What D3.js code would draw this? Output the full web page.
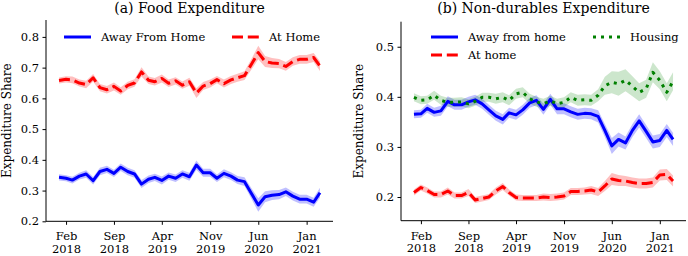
<!DOCTYPE html>
<html>
<head>
<meta charset="utf-8">
<script src="https://cdn.jsdelivr.net/npm/d3@7"></script>
<style>
  body { margin: 0; background: #fff; }
  svg { display: block; }
  text { font-family: "DejaVu Serif", serif; fill: #000; }
</style>
</head>
<body>
<div id="chart"></div>
<script>
// monthly observations, Jan 2018 .. Mar 2021
const months = d3.timeMonth.range(new Date(2018, 0, 1), new Date(2021, 3, 1));
const tickDates = [new Date(2018, 1, 1), new Date(2018, 8, 1), new Date(2019, 3, 1),
                   new Date(2019, 10, 1), new Date(2020, 5, 1), new Date(2021, 0, 1)];

// (a) food expenditure shares
const foodAway = [0.343,0.340,0.334,0.347,0.354,0.332,0.362,0.369,0.356,0.376,0.362,0.354,0.321,0.337,0.343,0.333,0.347,0.340,0.354,0.345,0.383,0.358,0.358,0.340,0.356,0.347,0.334,0.329,0.291,0.253,0.280,0.285,0.287,0.296,0.282,0.272,0.272,0.262,0.293];
const foodAwayCi = [0.010,0.010,0.011,0.011,0.012,0.012,0.012,0.012,0.012,0.012,0.012,0.012,0.013,0.012,0.012,0.013,0.012,0.012,0.012,0.013,0.015,0.013,0.013,0.012,0.013,0.013,0.013,0.014,0.017,0.022,0.018,0.016,0.015,0.014,0.014,0.014,0.014,0.015,0.016];
const foodHome = [0.658,0.662,0.660,0.650,0.645,0.667,0.635,0.628,0.639,0.624,0.642,0.650,0.686,0.659,0.654,0.665,0.649,0.657,0.643,0.654,0.617,0.640,0.648,0.661,0.648,0.660,0.667,0.674,0.710,0.749,0.720,0.715,0.713,0.704,0.720,0.727,0.727,0.733,0.705];
const foodHomeCi = [0.010,0.010,0.011,0.011,0.012,0.012,0.012,0.012,0.013,0.012,0.012,0.012,0.015,0.012,0.012,0.013,0.012,0.012,0.012,0.013,0.016,0.013,0.013,0.012,0.013,0.013,0.013,0.014,0.017,0.022,0.018,0.016,0.015,0.014,0.014,0.014,0.014,0.015,0.016];

// (b) non-durables expenditure shares
const ndAway = [0.365,0.366,0.377,0.369,0.372,0.391,0.384,0.384,0.390,0.394,0.386,0.374,0.362,0.355,0.368,0.364,0.374,0.388,0.393,0.375,0.395,0.376,0.376,0.370,0.365,0.367,0.366,0.361,0.333,0.302,0.315,0.308,0.333,0.352,0.331,0.310,0.313,0.333,0.315];
const ndAwayCi = [0.008,0.008,0.009,0.009,0.010,0.010,0.010,0.010,0.010,0.010,0.010,0.010,0.010,0.010,0.010,0.010,0.010,0.010,0.010,0.011,0.011,0.011,0.011,0.011,0.011,0.011,0.011,0.012,0.013,0.016,0.014,0.013,0.013,0.013,0.013,0.013,0.013,0.013,0.013];
const ndHome = [0.209,0.219,0.213,0.205,0.205,0.212,0.203,0.203,0.209,0.194,0.197,0.200,0.212,0.221,0.209,0.199,0.198,0.198,0.198,0.200,0.199,0.200,0.202,0.211,0.211,0.212,0.214,0.210,0.222,0.236,0.233,0.232,0.229,0.227,0.227,0.229,0.244,0.245,0.232];
const ndHomeCi = [0.006,0.006,0.006,0.006,0.006,0.007,0.006,0.006,0.007,0.006,0.006,0.006,0.007,0.007,0.006,0.006,0.006,0.006,0.006,0.007,0.007,0.007,0.007,0.007,0.007,0.007,0.008,0.008,0.010,0.012,0.011,0.010,0.010,0.010,0.010,0.010,0.011,0.011,0.011];
const ndHousing = [0.399,0.393,0.394,0.403,0.393,0.389,0.389,0.390,0.386,0.391,0.399,0.399,0.396,0.399,0.393,0.406,0.409,0.396,0.390,0.386,0.392,0.386,0.389,0.399,0.393,0.394,0.393,0.403,0.422,0.429,0.426,0.433,0.421,0.409,0.416,0.449,0.433,0.409,0.431];
const ndHousingCi = [0.008,0.008,0.008,0.009,0.009,0.009,0.009,0.009,0.009,0.009,0.009,0.009,0.010,0.010,0.010,0.010,0.010,0.010,0.010,0.010,0.010,0.010,0.010,0.010,0.011,0.011,0.011,0.012,0.018,0.022,0.024,0.022,0.020,0.018,0.018,0.020,0.018,0.018,0.018];

const styles = {
    away:    {color: "#0000ff", band: "#0000ff", bandOpacity: 0.25, dash: null},
    home:    {color: "#ff0000", band: "#ff0000", bandOpacity: 0.25, dash: "11,4.8"},
    housing: {color: "#008000", band: "#008000", bandOpacity: 0.2, dash: "3,5"}
};

const svg = d3.select("#chart").append("svg")
    .attr("width", 688)
    .attr("height", 256);

function drawPanel(cfg) {
    const g = svg.append("g");

    // date axis with 5% padding like matplotlib
    const ext = d3.extent(months);
    const pad = (ext[1] - ext[0]) * 0.05;
    const x = d3.scaleTime()
        .domain([new Date(+ext[0] - pad), new Date(+ext[1] + pad)])
        .range([cfg.left, cfg.right]);
    const y = d3.scaleLinear()
        .domain(cfg.yDomain)
        .range([cfg.bottom, cfg.top]);

    // bands first, then lines on top
    cfg.series.forEach(function (s) {
        const st = styles[s.style];
        const area = d3.area()
            .x(function (d, i) { return x(months[i]); })
            .y0(function (d, i) { return y(d - s.ci[i]); })
            .y1(function (d, i) { return y(d + s.ci[i]); });
        g.append("path")
            .datum(s.values)
            .attr("d", area)
            .attr("fill", st.band)
            .attr("fill-opacity", st.bandOpacity);
    });
    cfg.series.forEach(function (s) {
        const st = styles[s.style];
        const line = d3.line()
            .x(function (d, i) { return x(months[i]); })
            .y(function (d) { return y(d); });
        g.append("path")
            .datum(s.values)
            .attr("d", line)
            .attr("fill", "none")
            .attr("stroke", st.color)
            .attr("stroke-width", 3)
            .attr("stroke-linejoin", "round")
            .attr("stroke-dasharray", st.dash);
    });

    // axes: only left and bottom spines
    const xAxis = g.append("g")
        .attr("transform", `translate(0, ${cfg.bottom})`)
        .call(d3.axisBottom(x).tickValues(tickDates).tickSize(3.5).tickPadding(3).tickFormat(""));
    xAxis.select(".domain").attr("d", `M${cfg.left},0H${cfg.right}`);
    xAxis.selectAll(".tick").each(function (d) {
        const t = d3.select(this).append("text")
            .attr("text-anchor", "middle")
            .attr("font-size", "11.5px");
        t.append("tspan").attr("x", 0).attr("y", 19).text(d3.timeFormat("%b")(d));
        t.append("tspan").attr("x", 0).attr("y", 31.8).text(d3.timeFormat("%Y")(d));
    });

    const yAxis = g.append("g")
        .attr("transform", `translate(${cfg.left}, 0)`)
        .call(d3.axisLeft(y).tickValues(cfg.yTicks).tickSize(3.5).tickPadding(3.5).tickFormat(d3.format(".1f")));
    yAxis.select(".domain").attr("d", `M0,${cfg.top}V${cfg.bottom}`);
    yAxis.selectAll("text").attr("font-size", "11.5px").attr("font-family", "DejaVu Serif");
    g.selectAll(".domain, .tick line").attr("stroke", "#000").attr("stroke-width", 1);

    // y label
    g.append("text")
        .attr("transform", `translate(${cfg.labelX}, ${(cfg.top + cfg.bottom) / 2}) rotate(-90)`)
        .attr("text-anchor", "middle")
        .attr("font-size", "12px")
        .text("Expenditure Share");

    // title
    g.append("text")
        .attr("x", (cfg.left + cfg.right) / 2)
        .attr("y", 12.5)
        .attr("text-anchor", "middle")
        .attr("font-size", "14px")
        .text(cfg.title);

    // legend
    cfg.legend.forEach(function (l) {
        const st = styles[l.style];
        g.append("line")
            .attr("x1", l.x).attr("x2", l.x + 27)
            .attr("y1", l.y).attr("y2", l.y)
            .attr("stroke", st.color)
            .attr("stroke-width", 3)
            .attr("stroke-dasharray", st.dash);
        g.append("text")
            .attr("x", l.x + 37)
            .attr("y", l.y + 4)
            .attr("font-size", "11.5px")
            .text(l.label);
    });
}

drawPanel({
    title: "(a) Food Expenditure",
    left: 46, right: 333, top: 20, bottom: 221.3,
    yDomain: [0.2, 0.855],
    yTicks: [0.2, 0.3, 0.4, 0.5, 0.6, 0.7, 0.8],
    labelX: 11,
    series: [
        {values: foodAway, ci: foodAwayCi, style: "away"},
        {values: foodHome, ci: foodHomeCi, style: "home"}
    ],
    legend: [
        {label: "Away From Home", style: "away", x: 64, y: 37},
        {label: "At Home", style: "home", x: 232, y: 37}
    ]
});

drawPanel({
    title: "(b) Non-durables Expenditure",
    left: 401, right: 686, top: 21.7, bottom: 220.7,
    yDomain: [0.1527, 0.55],
    yTicks: [0.2, 0.3, 0.4, 0.5],
    labelX: 363,
    series: [
        {values: ndAway, ci: ndAwayCi, style: "away"},
        {values: ndHome, ci: ndHomeCi, style: "home"},
        {values: ndHousing, ci: ndHousingCi, style: "housing"}
    ],
    legend: [
        {label: "Away from home", style: "away", x: 431, y: 37},
        {label: "At home", style: "home", x: 431, y: 55},
        {label: "Housing", style: "housing", x: 593, y: 37}
    ]
});
</script>
</body>
</html>
